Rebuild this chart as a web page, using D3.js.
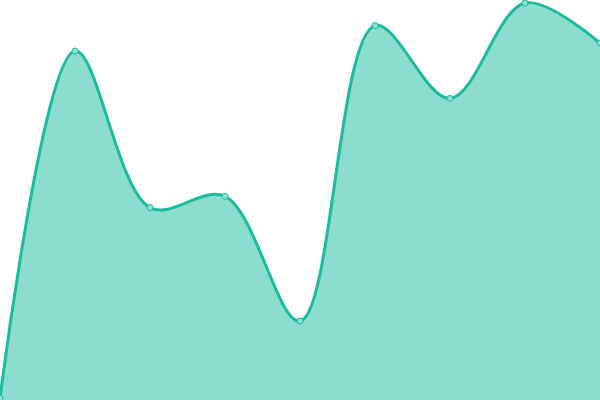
<!DOCTYPE html>
<html lang="en">
<head>
    <meta charset="UTF-8">
    <title>Area chart</title>
    <script src="https://d3js.org/d3.v7.min.js"></script>
    <style>
        body { margin: 0; background: #fff; }
        svg { display: block; }
    </style>
</head>
<body>
    <svg></svg>
    <script>
        // Data
        const categories = [0, 1, 2, 3, 4, 5, 6, 7, 8];
        const values = [0.5, 87.25, 48.1, 50.9, 19.75, 93.6, 75.4, 99.25, 89.25];

        const width = 600;
        const height = 400;
        const data = categories.map((c, i) => ({ x: c, y: values[i] }));

        const svg = d3.select("svg")
            .attr("width", width)
            .attr("height", height);

        const x = d3.scaleLinear().domain([0, 8]).range([0, width]);
        const y = d3.scaleLinear().domain([0, 100]).range([height, 0]);

        const curve = d3.curveCatmullRom;

        // filled area
        svg.append("path")
            .datum(data)
            .attr("fill", "#1abc9c")
            .attr("fill-opacity", 0.5)
            .attr("d", d3.area().curve(curve)
                .x(d => x(d.x))
                .y0(height)
                .y1(d => y(d.y)));

        // line on top
        svg.append("path")
            .datum(data)
            .attr("fill", "none")
            .attr("stroke", "#1abc9c")
            .attr("stroke-width", 3)
            .attr("d", d3.line().curve(curve)
                .x(d => x(d.x))
                .y(d => y(d.y)));

        // points
        svg.selectAll("circle")
            .data(data)
            .enter().append("circle")
            .attr("cx", d => x(d.x))
            .attr("cy", d => y(d.y))
            .attr("r", 3)
            .attr("fill", "#8ddfcf")
            .attr("stroke", "#1abc9c")
            .attr("stroke-width", 1);
    </script>
</body>
</html>
